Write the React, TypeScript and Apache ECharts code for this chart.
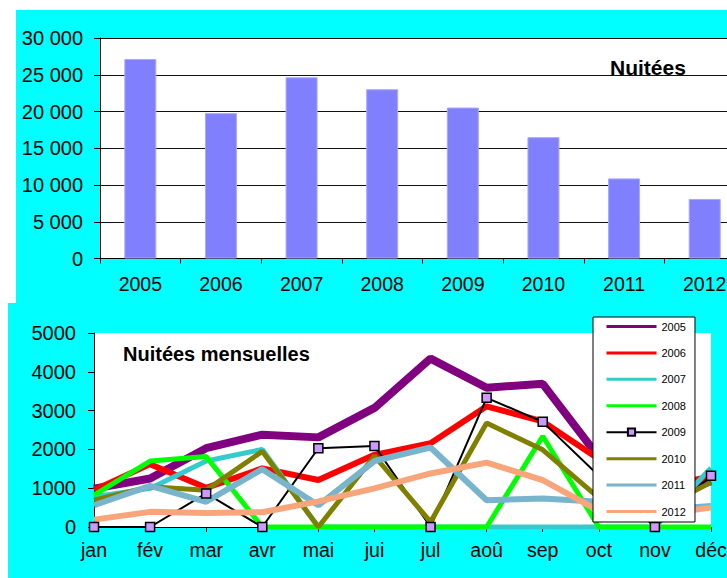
import React, { useEffect, useRef } from "react";
import * as echarts from "echarts";

const years = ["2005", "2006", "2007", "2008", "2009", "2010", "2011", "2012"];
const annualNights = [27150, 19780, 24660, 23030, 20540, 16510, 10900, 8100];
const yearTicks = [0, 5000, 10000, 15000, 20000, 25000, 30000];

const months = ["jan", "fév", "mar", "avr", "mai", "jui", "jul", "aoû", "sep", "oct", "nov", "déc"];
const m2005 = [990, 1250, 2030, 2380, 2310, 3070, 4340, 3590, 3690, 1800, 700, 1180];
const m2006 = [950, 1620, 1010, 1510, 1210, 1860, 2160, 3110, 2720, 1750, 1000, 1300];
const m2007 = [780, 995, 1700, 2000, 0, 0, 0, 0, 0, 0, 0, 1520];
const m2008 = [820, 1700, 1815, 0, 0, 0, 0, 0, 2340, 0, 0, 0];
const m2009 = [0, 0, 865, 0, 2030, 2090, 0, 3330, 2710, 1320, 0, 1320];
const m2010 = [690, 1040, 950, 1950, 0, 1830, 130, 2680, 1990, 750, 400, 1150];
const m2011 = [560, 1060, 650, 1490, 560, 1700, 2050, 690, 735, 650, 430, 540];
const m2012 = [190, 390, 360, 380, 660, 995, 1380, 1660, 1210, 415, 300, 500];

const FONT = "'Liberation Sans', Arial, sans-serif";

const fmtSpace = (v: number) => String(v).replace(/\B(?=(\d{3})+(?!\d))/g, " ");

export default function App() {
  const ref = useRef<HTMLDivElement>(null);
  useEffect(() => {
    if (!ref.current) return;
    const chart = echarts.init(ref.current, undefined, { renderer: "svg" });
    const lineSeries = [
      { name: "2005", data: m2005, color: "#800080", width: 8 },
      { name: "2006", data: m2006, color: "#FF0000", width: 6 },
      { name: "2007", data: m2007, color: "#33CCCC", width: 5 },
      { name: "2008", data: m2008, color: "#00FF00", width: 5 },
      { name: "2009", data: m2009, color: "#000000", width: 2 },
      { name: "2010", data: m2010, color: "#808000", width: 5 },
      { name: "2011", data: m2011, color: "#78B4CC", width: 6 },
      { name: "2012", data: m2012, color: "#F9A57C", width: 6 },
    ];
    chart.setOption({
      animation: false,
      textStyle: { fontFamily: FONT },
      graphic: [
        { type: "rect", z: -100, shape: { x: 16, y: 10, width: 720, height: 293 }, style: { fill: "#00FFFF" } },
        { type: "rect", z: -100, shape: { x: 8, y: 303, width: 730, height: 280 }, style: { fill: "#00FFFF" } },
      ],
      title: [
        { text: "Nuitées", left: 605, top: 52, textStyle: { fontFamily: FONT, fontSize: 21, fontWeight: "bold", color: "#000" } },
        { text: "Nuitées mensuelles", left: 123, top: 344, padding: 0, textStyle: { fontFamily: FONT, fontSize: 20, fontWeight: "bold", color: "#000" } },
      ],
      legend: {
        orient: "vertical",
        left: 593,
        top: 317,
        padding: [4, 9, 5, 12],
        itemWidth: 50,
        itemHeight: 9,
        itemGap: 15.43,
        backgroundColor: "#fff",
        borderColor: "#000",
        borderWidth: 1,
        borderRadius: 0,
        textStyle: { fontFamily: FONT, fontSize: 11, color: "#000" },
        lineStyle: { width: 3 },
        data: lineSeries.map((s) =>
          s.name === "2009"
            ? { name: s.name, lineStyle: { width: 2 } }
            : { name: s.name, lineStyle: { width: 3 }, itemStyle: { opacity: 0, borderWidth: 0 } }
        ),
      },
      grid: [
        { left: 100, top: 38, width: 645, height: 220.5, show: true, backgroundColor: "#fff", borderWidth: 0, outerBoundsMode: "none", containLabel: false },
        { left: 94, top: 333, width: 617, height: 194, show: true, backgroundColor: "#fff", borderWidth: 0, outerBoundsMode: "none", containLabel: false },
      ],
      xAxis: [
        {
          type: "category",
          gridIndex: 0,
          data: years,
          axisLine: { lineStyle: { color: "#000", width: 1 } },
          axisTick: { show: true, length: 5, lineStyle: { color: "#000" } },
          axisLabel: { fontFamily: FONT, fontSize: 19.5, color: "#000", margin: 15 },
        },
        {
          type: "category",
          gridIndex: 1,
          data: months,
          boundaryGap: false,
          axisLine: { lineStyle: { color: "#000", width: 1 } },
          axisTick: { show: true, length: 5, lineStyle: { color: "#000" } },
          axisLabel: { fontFamily: FONT, fontSize: 19.5, color: "#000", margin: 13, showMaxLabel: true },
        },
      ],
      yAxis: [
        {
          type: "value",
          gridIndex: 0,
          min: yearTicks[0],
          max: yearTicks[yearTicks.length - 1],
          interval: 5000,
          axisLine: { show: true, lineStyle: { color: "#000" } },
          axisTick: { show: true, length: 6, lineStyle: { color: "#000" } },
          splitLine: { show: true, lineStyle: { color: "#111", width: 1.2 } },
          axisLabel: { fontFamily: FONT, fontSize: 20, color: "#000", margin: 17, formatter: (v: number) => fmtSpace(v) },
        },
        {
          type: "value",
          gridIndex: 1,
          min: 0,
          max: 5000,
          interval: 1000,
          axisLine: { show: true, lineStyle: { color: "#000" } },
          axisTick: { show: true, length: 6, lineStyle: { color: "#000" } },
          splitLine: { show: false },
          axisLabel: { fontFamily: FONT, fontSize: 20, color: "#000", margin: 18, formatter: (v: number) => String(v) },
        },
      ],
      series: [
        {
          type: "bar",
          name: "Nuitées",
          xAxisIndex: 0,
          yAxisIndex: 0,
          data: annualNights,
          barWidth: 32,
          itemStyle: { color: "#8080FF", borderColor: "#A8A8FF", borderWidth: 1 },
        },
        ...lineSeries.map((s) => ({
          type: "line",
          name: s.name,
          xAxisIndex: 1,
          yAxisIndex: 1,
          data: s.data,
          color: s.color,
          lineStyle: { color: s.color, width: s.width },
          symbol: s.name === "2009" ? "rect" : "none",
          symbolSize: 9,
          showAllSymbol: true,
          itemStyle: s.name === "2009" ? { color: "#CC99FF", borderColor: "#000", borderWidth: 1.5 } : { color: s.color },
          emphasis: { disabled: true },
        })),
      ],
    });
    return () => chart.dispose();
  }, []);
  return <div ref={ref} style={{ position: "fixed", left: 0, top: 0, width: 727, height: 578, background: "#fff" }} />;
}
